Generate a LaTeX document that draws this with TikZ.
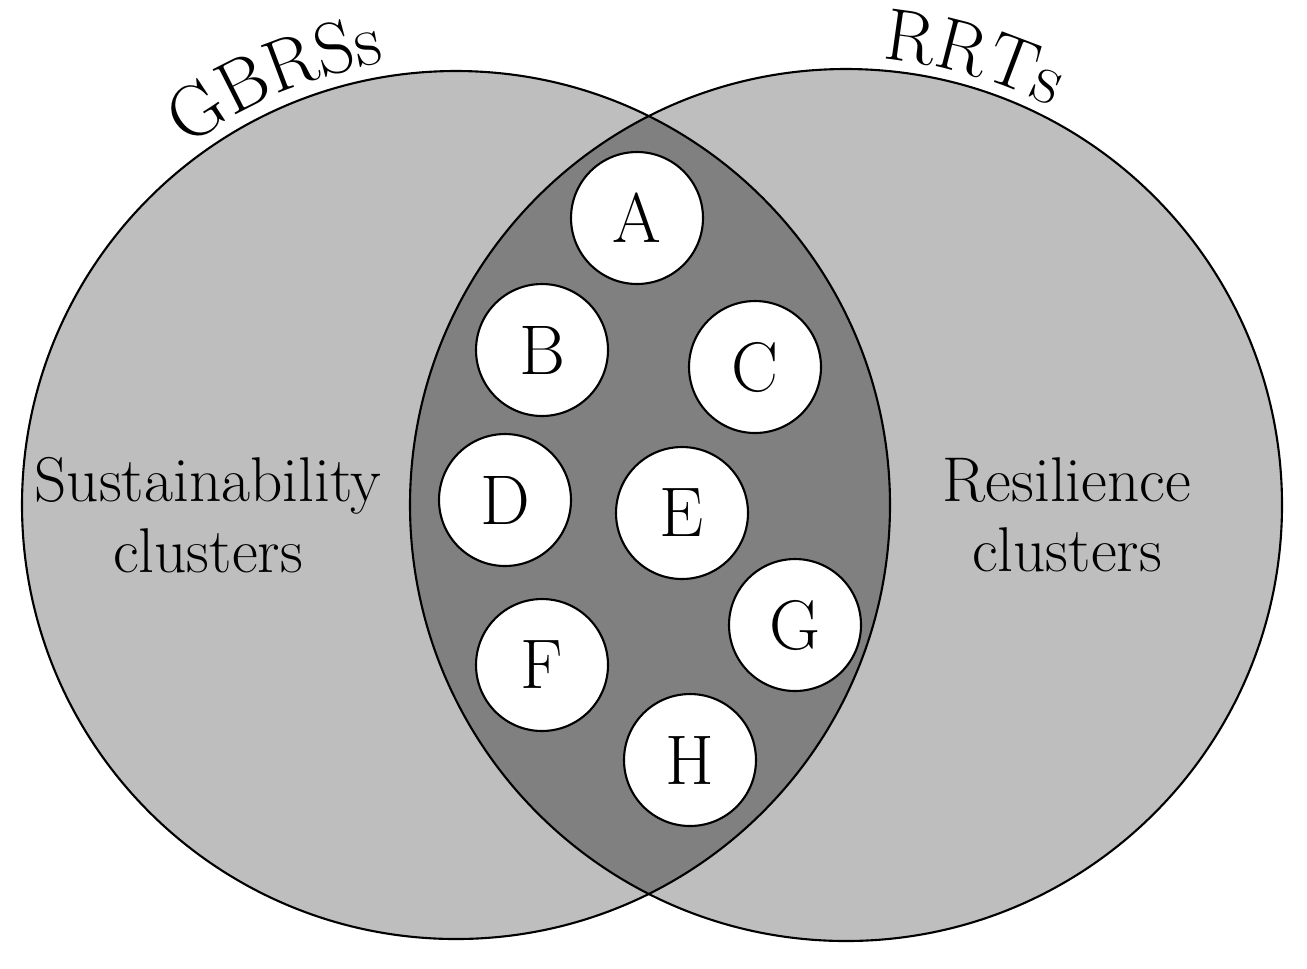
\documentclass[tikz,border=0pt]{standalone}
\usepackage{tikz}
\usetikzlibrary{decorations.text}
\definecolor{outer}{RGB}{190,190,190}
\definecolor{lens}{RGB}{128,128,128}
\begin{document}
\begin{tikzpicture}[x=0.02cm,y=-0.02cm,
    set/.style={draw, line width=1.2pt},
    item/.style={draw, circle, fill=white, line width=1.2pt, minimum size=2.64cm, inner sep=0pt, font=\fontsize{40}{48}\selectfont},
    lbl/.style={font=\fontsize{36}{40}\selectfont, align=center},
    arclbl/.style={decorate, decoration={text along path, text align=center,
        text={|\fontsize{42}{48}\selectfont|#1}}}
]
\useasboundingbox (0,0) rectangle (1307,968);
% Sets
\fill[outer] (456,505) circle (434*0.02cm);
\fill[outer] (846,505) circle (436*0.02cm);
\begin{scope}
  \clip (456,505) circle (434*0.02cm);
  \fill[lens] (846,505) circle (436*0.02cm);
\end{scope}
\draw[set] (456,505) circle (434*0.02cm);
\draw[set] (846,505) circle (436*0.02cm);

% Set labels along the circles
\path[arclbl=GBRSs] (9.12cm,-10.1cm) ++(140:8.95cm) arc[start angle=140, end angle=86, radius=8.95cm];
\path[arclbl=RRTs] (16.92cm,-10.1cm) ++(102:8.95cm) arc[start angle=102, end angle=46, radius=8.95cm];
\node[lbl] (sus) at (208,515) {Sustainability\\clusters};
\node[lbl] (res) at (1067,515) {Resilience\\clusters};

% Items
\node[item] (A) at (637,218) {A};
\node[item] (B) at (542,350) {B};
\node[item] (C) at (755,367) {C};
\node[item] (D) at (505,500) {D};
\node[item] (E) at (682,513) {E};
\node[item] (F) at (542,665) {F};
\node[item] (G) at (795,625) {G};
\node[item] (H) at (690,760) {H};
\end{tikzpicture}
\end{document}
